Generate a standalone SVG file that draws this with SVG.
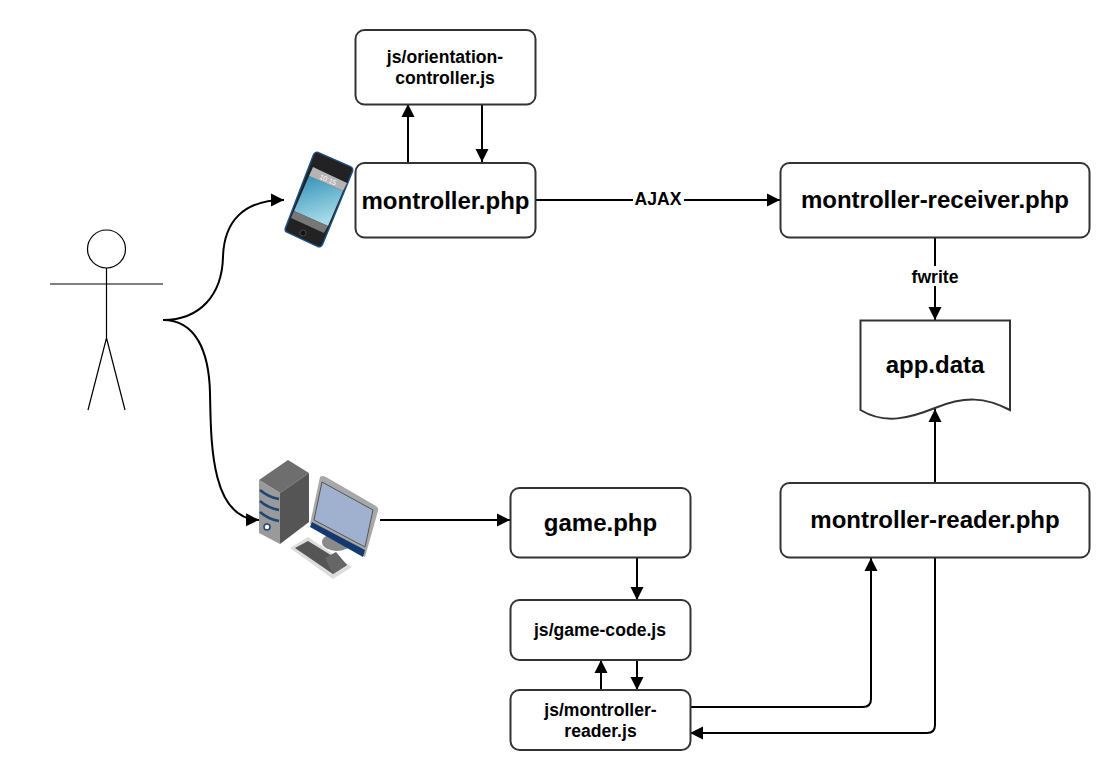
<svg xmlns="http://www.w3.org/2000/svg" width="1110" height="770" viewBox="0 0 1110 770">
<style>
text{font-family:"Liberation Sans",Arial,sans-serif;font-weight:bold;fill:#000;text-anchor:middle}
.box{fill:#fff;stroke:#333;stroke-width:2}
.big{font-size:24px}
.sm{font-size:17.600px}
.c{fill:none;stroke:#000;stroke-width:2}
.a{marker-end:url(#arr)}
</style>
<defs>
<marker id="arr" markerUnits="userSpaceOnUse" markerWidth="14" markerHeight="14" refX="13" refY="7" orient="auto"><path d="M0,0.500L13,7L0,13.500Z" fill="#000"/></marker>
<linearGradient id="scr" x1="0" y1="0" x2="0.300" y2="1"><stop offset="0" stop-color="#2f8fb8"/><stop offset="1" stop-color="#a5dbe8"/></linearGradient>
</defs>
<rect width="1110" height="770" fill="#fff"/>
<g id="connectors">
<path class="c a" d="M163,320C200,320 222,295 223,257C224,222 243,200 284,200"/>
<path class="c a" d="M163,320C195,320 209,350 210,393C211,440 210,519 259,520"/>
<path class="c a" d="M408,162V104"/>
<path class="c a" d="M482,104V162"/>
<path class="c" d="M536,200H633"/>
<path class="c a" d="M684,200H780"/>
<path class="c" d="M935,238V266"/>
<path class="c a" d="M935,286V320"/>
<path class="c a" d="M935,483V409"/>
<path class="c a" d="M380,520H510"/>
<path class="c a" d="M637,558V600"/>
<path class="c a" d="M601,690V660"/>
<path class="c a" d="M637,660V690"/>
<path class="c a" d="M690,707H863Q871,707 871,699V558"/>
<path class="c a" d="M935,558V725Q935,733 927,733H690"/>
</g>
<g id="actor" fill="none" stroke="#000" stroke-width="1.200">
<circle cx="106.500" cy="249" r="19" fill="#fff"/>
<path d="M106.500,268V338M50,284H163M106.500,338L88,410M106.500,338L125,410"/>
</g>
<g id="phone">
<path d="M317,156L349,170L319,243L289,229Z" fill="#1d4f86" stroke="#1d4f86" stroke-width="9" stroke-linejoin="round"/>
<path d="M317,156L349,170L319,243L289,229Z" fill="#222" stroke="#222" stroke-width="6" stroke-linejoin="round"/>
<path d="M309,176L343,191L328,226L294,211Z" fill="url(#scr)"/>
<path d="M313,167L347,183L343,191L309,176Z" fill="#b4b4b4"/>
<path d="M294,211L328,226L324,233L291,218Z" fill="#777"/>
<circle cx="303" cy="233" r="3" fill="#111" stroke="#555" stroke-width="0.800"/>
<text x="327" y="182" transform="rotate(23 327 182)" style="font-size:7px;fill:#fff;font-weight:normal">10:15</text>
</g>
<g id="computer">
<path d="M259,480L288,460L309,473L280,493Z" fill="#6e6e6e"/>
<path d="M280,493L309,473V522L280,544Z" fill="#555"/>
<path d="M259,480L280,493V544L259,533Z" fill="#9a9a9a"/>
<path d="M260,490Q268,497 279,499M260,501Q268,508 279,510M260,512Q268,519 279,521" fill="none" stroke="#1d4578" stroke-width="2.500"/>
<circle cx="267" cy="527" r="3" fill="#fff" stroke="#1d4578" stroke-width="1.500"/>
<ellipse cx="337" cy="542" rx="15" ry="9" fill="#8a8a8a"/>
<path d="M320,477Q322,475 326,477L376,506Q379,508 378,511L365,557L310,524Z" fill="#a8a8a8"/>
<path d="M322,482L373,510L365,547L314,520Z" fill="#9fb1ce" stroke="#555" stroke-width="1"/>
<path d="M312,522L365,550L363,557L310,527Z" fill="#123a70"/>
<path d="M290,548L308,537L352,567L333,579Z" fill="#ddd"/>
<path d="M295,548L308,541L347,565L333,574Z" fill="#555"/>
<path d="M325,558L336,552L347,565L333,574Z" fill="#666"/>
</g>
<g id="orientation"><rect class="box" x="355.500" y="30" width="180" height="74.500" rx="9"/><text class="sm" x="445" y="63">js/orientation-</text><text class="sm" x="445" y="84">controller.js</text></g>
<g id="montroller"><rect class="box" x="355.500" y="163" width="180" height="74.500" rx="9"/><text class="big" x="445.500" y="209">montroller.php</text></g>
<g id="receiver"><rect class="box" x="780.500" y="163" width="309" height="74.500" rx="9"/><text class="big" x="935" y="208">montroller-receiver.php</text></g>
<g id="appdata"><path class="box" d="M860.500,320.500H1010V410C985,397 965,396 935,408C910,418 885,425 860.500,410Z"/><text class="big" x="935" y="373">app.data</text></g>
<g id="reader"><rect class="box" x="780.500" y="483" width="309" height="74.500" rx="9"/><text class="big" x="935" y="528">montroller-reader.php</text></g>
<g id="game"><rect class="box" x="510.500" y="488" width="180" height="69.500" rx="9"/><text class="big" x="600.500" y="531">game.php</text></g>
<g id="gamecode"><rect class="box" x="510.500" y="600" width="180" height="60" rx="9"/><text class="sm" x="600" y="636">js/game-code.js</text></g>
<g id="mreader"><rect class="box" x="510.500" y="690" width="180" height="60" rx="9"/><text class="sm" x="600.500" y="716">js/montroller-</text><text class="sm" x="600.500" y="737">reader.js</text></g>
<text class="sm" x="658" y="205">AJAX</text>
<text class="sm" x="935" y="283">fwrite</text>
</svg>
